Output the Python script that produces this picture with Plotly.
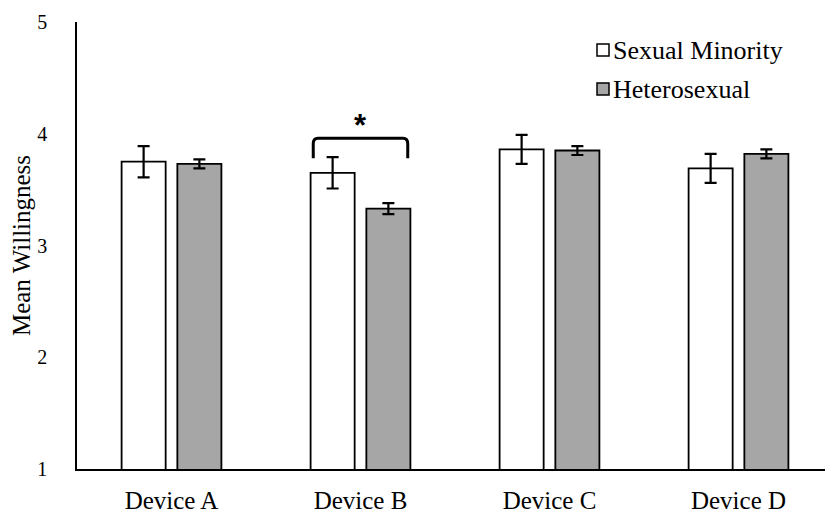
import plotly.graph_objects as go

categories = ["Device A", "Device B", "Device C", "Device D"]
minority_mean = [3.75, 3.65, 3.86, 3.69]
minority_err = [0.14, 0.14, 0.13, 0.13]
hetero_mean = [3.73, 3.33, 3.85, 3.82]
hetero_err = [0.04, 0.05, 0.04, 0.04]
y_ticks = [1, 2, 3, 4, 5]
series_names = ["Sexual Minority", "Heterosexual"]
series_colors = ["white", "#a6a6a6"]

FONT = "Liberation Serif"
# page has an 8px body margin; compensate so the plot area sits at x 77..833, y 22..469
W, H = 825, 506
L, R, T, B = 69, 0, 14, 45
PLOT_L, PLOT_B = 77, 469
PW, PH = W - L - R, H - T - B


def px_x(p):
    return (p - PLOT_L) / PW


def px_y(p):
    return (PLOT_B - p) / PH


fig = go.Figure()
for name, mean, err, col in [(series_names[0], minority_mean, minority_err, series_colors[0]),
                             (series_names[1], hetero_mean, hetero_err, series_colors[1])]:
    fig.add_trace(go.Bar(
        name=name, x=categories, y=mean,
        marker=dict(color=col, line=dict(color="black", width=1.8)),
        error_y=dict(type="data", array=err, color="black", thickness=2.2, width=6),
        showlegend=False,
    ))

# custom legend
for i, (name, col) in enumerate(zip(series_names, series_colors)):
    cy = 50 + 39 * i
    fig.add_shape(type="rect", xref="paper", yref="paper",
                  x0=px_x(597), x1=px_x(609), y0=px_y(cy + 6), y1=px_y(cy - 6),
                  fillcolor=col, line=dict(color="black", width=1.5))
    fig.add_annotation(xref="paper", yref="paper", x=px_x(611), y=px_y(cy + 1),
                       xanchor="left", yanchor="middle", text=name, showarrow=False,
                       font=dict(family=FONT, size=26, color="black"))

# significance bracket over Device B
x0, x1, yb, yt = 0.75, 1.25, 3.78, 3.96
path = (f"M {x0},{yb} L {x0},{yt-0.05} Q {x0},{yt} {x0+0.025},{yt} "
        f"L {x1-0.025},{yt} Q {x1},{yt} {x1},{yt-0.05} L {x1},{yb}")
fig.add_shape(type="path", path=path, xref="x", yref="y",
              line=dict(color="black", width=3))
fig.add_annotation(x=1, y=4.07, xref="x", yref="y", text="<b>*</b>",
                   showarrow=False, font=dict(family="Arial", size=31, color="black"))

fig.update_layout(
    width=W, height=H,
    margin=dict(l=L, r=R, t=T, b=B),
    plot_bgcolor="white", paper_bgcolor="white",
    barmode="group", bargap=0.41, bargroupgap=0.21,
    font=dict(family=FONT, size=25, color="black"),
    showlegend=False,
)
fig.update_xaxes(showline=True, linecolor="black", linewidth=1.5, ticks="",
                 tickfont=dict(family=FONT, size=25), ticklabelstandoff=8,
                 showgrid=False, zeroline=False, automargin=False)
fig.update_yaxes(range=[1, 5], tickvals=y_ticks, showline=True, linecolor="black",
                 linewidth=1.5, ticks="", showgrid=False, zeroline=False,
                 tickfont=dict(family=FONT, size=20), ticklabelstandoff=24,
                 automargin=False,
                 title=dict(text="Mean Willingness", font=dict(family=FONT, size=25), standoff=0))

fig.write_html("out.html")
